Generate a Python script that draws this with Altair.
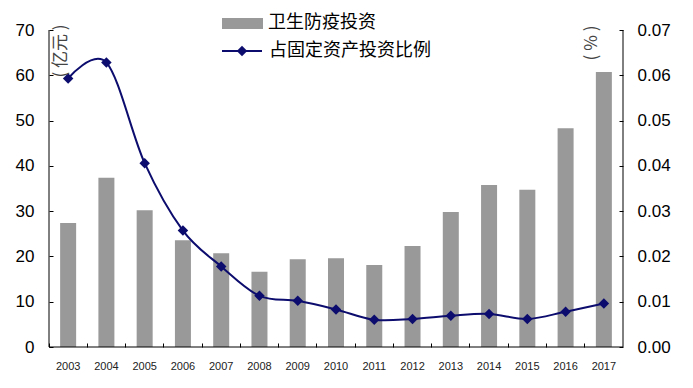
import altair as alt
import pandas as pd

years = [str(y) for y in range(2003, 2018)]
investment = [27.4, 37.4, 30.2, 23.6, 20.7, 16.6, 19.4, 19.6, 18.1, 22.3, 29.8, 35.8, 34.7, 48.3, 60.7]
share = [0.0593, 0.0628, 0.0406, 0.0257, 0.0178, 0.0113, 0.0102, 0.0083, 0.0060,
         0.0062, 0.0069, 0.0073, 0.0062, 0.0078, 0.0096]
left_ticks = [0, 10, 20, 30, 40, 50, 60, 70]
right_ticks = [0.0, 0.01, 0.02, 0.03, 0.04, 0.05, 0.06, 0.07]
bar_label = "卫生防疫投资"
line_label = "占固定资产投资比例"
left_unit = "( 亿元 )"
right_unit = "( % )"

BAR_COLOR = "#999999"
LINE_COLOR = "#0c0c6e"
CJK = "Noto Sans CJK SC"
NUM = "Liberation Sans"

W, H = 574, 317

df = pd.DataFrame({"year": years, "inv": investment, "share": share})

x_enc = alt.X(
    "year:N", title=None, sort=None,
    scale=alt.Scale(paddingInner=0, paddingOuter=0),
    axis=alt.Axis(labelAngle=0, domain=False, ticks=True, tickSize=4, offset=-4,
                  bandPosition=0, labelPadding=13, labelFont=NUM, labelFontSize=11,
                  labelColor="#222222", tickColor="black", grid=False),
)

base = alt.Chart(df)

bars = base.mark_bar(size=16, color=BAR_COLOR).encode(
    x=x_enc,
    y=alt.Y("inv:Q", title=None,
            scale=alt.Scale(domain=[0, 70], nice=False),
            axis=alt.Axis(values=left_ticks, orient="left", domain=False, tickSize=4, offset=-4,
                          labelPadding=15, labelFont=NUM, labelFontSize=17, labelColor="black",
                          tickColor="black", grid=False)),
)

line = base.mark_line(color=LINE_COLOR, strokeWidth=2, interpolate="cardinal").encode(
    x=x_enc,
    y=alt.Y("share:Q", title=None,
            scale=alt.Scale(domain=[0, 0.07], nice=False),
            axis=alt.Axis(values=right_ticks, orient="right", format=".2f", domain=False,
                          tickSize=4, offset=-4, labelPadding=14, labelFont=NUM,
                          labelFontSize=17, labelColor="black", tickColor="black", grid=False)),
)

points = base.mark_point(shape="diamond", filled=True, size=110, color=LINE_COLOR, opacity=1).encode(
    x=x_enc,
    y=alt.Y("share:Q", scale=alt.Scale(domain=[0, 0.07], nice=False), axis=None),
)

one = pd.DataFrame({"a": [0]})

frame_left = alt.Chart(one).mark_rule(color="black", strokeWidth=1).encode(
    x=alt.value(0), y=alt.value(0), y2=alt.value(H))
frame_right = alt.Chart(one).mark_rule(color="black", strokeWidth=1).encode(
    x=alt.value(W), y=alt.value(0), y2=alt.value(H))
frame_bottom = alt.Chart(one).mark_rule(color="black", strokeWidth=1).encode(
    x=alt.value(0), x2=alt.value(W), y=alt.value(H))

unit_left = alt.Chart(one).mark_text(
    angle=270, font=CJK, fontSize=17, color="#444444", align="center", baseline="middle"
).encode(x=alt.value(12), y=alt.value(21), text=alt.value(left_unit))

unit_right = alt.Chart(one).mark_text(
    angle=270, font=CJK, fontSize=17, color="#444444", align="center", baseline="middle"
).encode(x=alt.value(543), y=alt.value(13), text=alt.value(right_unit))

leg_rect = alt.Chart(one).mark_rect(color=BAR_COLOR).encode(
    x=alt.value(173), x2=alt.value(214), y=alt.value(-12), y2=alt.value(-1))
leg_text1 = alt.Chart(pd.DataFrame({"t": [bar_label]})).mark_text(
    font=CJK, fontSize=18, color="black", align="left", baseline="middle"
).encode(x=alt.value(219), y=alt.value(-7), text="t:N")
leg_line = alt.Chart(one).mark_rule(color=LINE_COLOR, strokeWidth=2).encode(
    x=alt.value(173), x2=alt.value(213), y=alt.value(21))
leg_pt = alt.Chart(one).mark_point(shape="diamond", filled=True, size=110, color=LINE_COLOR, opacity=1).encode(
    x=alt.value(193), y=alt.value(21))
leg_text2 = alt.Chart(pd.DataFrame({"t": [line_label]})).mark_text(
    font=CJK, fontSize=18, color="black", align="left", baseline="middle"
).encode(x=alt.value(220), y=alt.value(21), text="t:N")

chart = alt.layer(
    bars, line, points,
    frame_left, frame_right, frame_bottom,
    unit_left, unit_right,
    leg_rect, leg_text1, leg_line, leg_pt, leg_text2,
).resolve_scale(y="independent").properties(
    width=W, height=H,
    autosize=alt.AutoSizeParams(type="none"),
    padding={"left": 41, "top": 22, "right": 62, "bottom": 33},
    background="white",
).configure_view(stroke=None)

chart.save("out.html", embed_options={"renderer": "svg", "actions": False})
